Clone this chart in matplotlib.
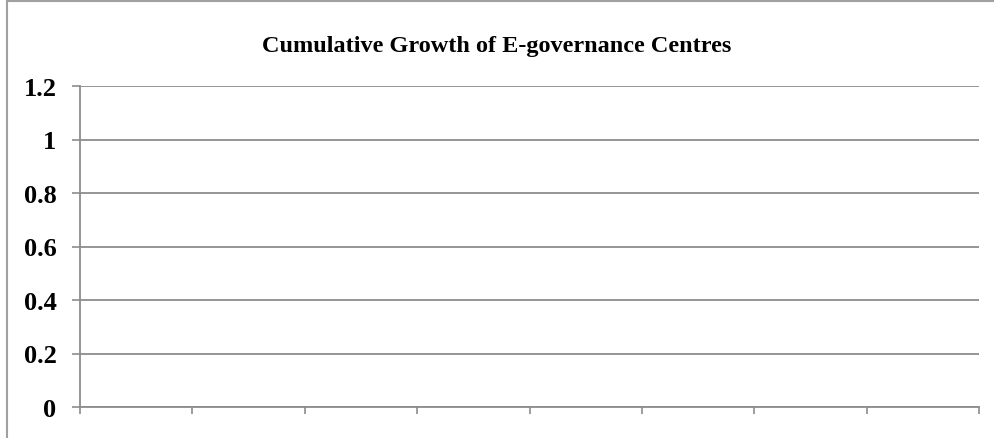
import matplotlib.pyplot as plt
import numpy as np
from matplotlib.patches import Rectangle

# chart has categories but no plotted values
categories = ['', '', '', '', '', '', '', '']
values = [np.nan] * len(categories)
yticks = [0, 0.2, 0.4, 0.6, 0.8, 1, 1.2]
ytick_labels = ['0', '0.2', '0.4', '0.6', '0.8', '1', '1.2']
title = 'Cumulative Growth of E-governance Centres'

plt.rcParams['font.family'] = ['Liberation Serif', 'DejaVu Serif']
grey = '#8c8c8c'

fig = plt.figure(figsize=(9.94, 4.39), dpi=100)
W, H = 994, 439

# outer chart border (cut off at right and bottom)
fig.patches.append(Rectangle((7 / W, -0.05), 1.1, 1 - 2 / H + 0.05,
                             transform=fig.transFigure, fill=False,
                             edgecolor='#a0a0a0', linewidth=1.5))

ax = fig.add_axes([80 / W, 1 - 408 / H, (979 - 80) / W, (408 - 87) / H])
x = np.arange(len(categories))
ax.plot(x, values)
ax.set_xlim(-0.5, len(categories) - 0.5)
ax.set_ylim(0, 1.2)

ax.set_yticks(yticks)
ax.set_yticklabels(ytick_labels, fontsize=19, fontweight='bold')
ax.set_xticks(np.arange(len(categories) + 1) - 0.5)
ax.set_xticklabels([''] * (len(categories) + 1))
ax.tick_params(axis='y', length=6, width=1.2, color=grey, pad=11)
ax.tick_params(axis='x', length=5, width=1.2, color=grey)

ax.grid(axis='y', color=grey, linewidth=1.3)
ax.set_axisbelow(True)
for side in ['top', 'right']:
    ax.spines[side].set_visible(False)
for side in ['left', 'bottom']:
    ax.spines[side].set_color(grey)
    ax.spines[side].set_linewidth(1.3)

fig.text(0.5, 1 - 52 / H, title, ha='center', va='baseline',
         fontsize=17.5, fontweight='bold')

fig.savefig('out.png', dpi=100)
